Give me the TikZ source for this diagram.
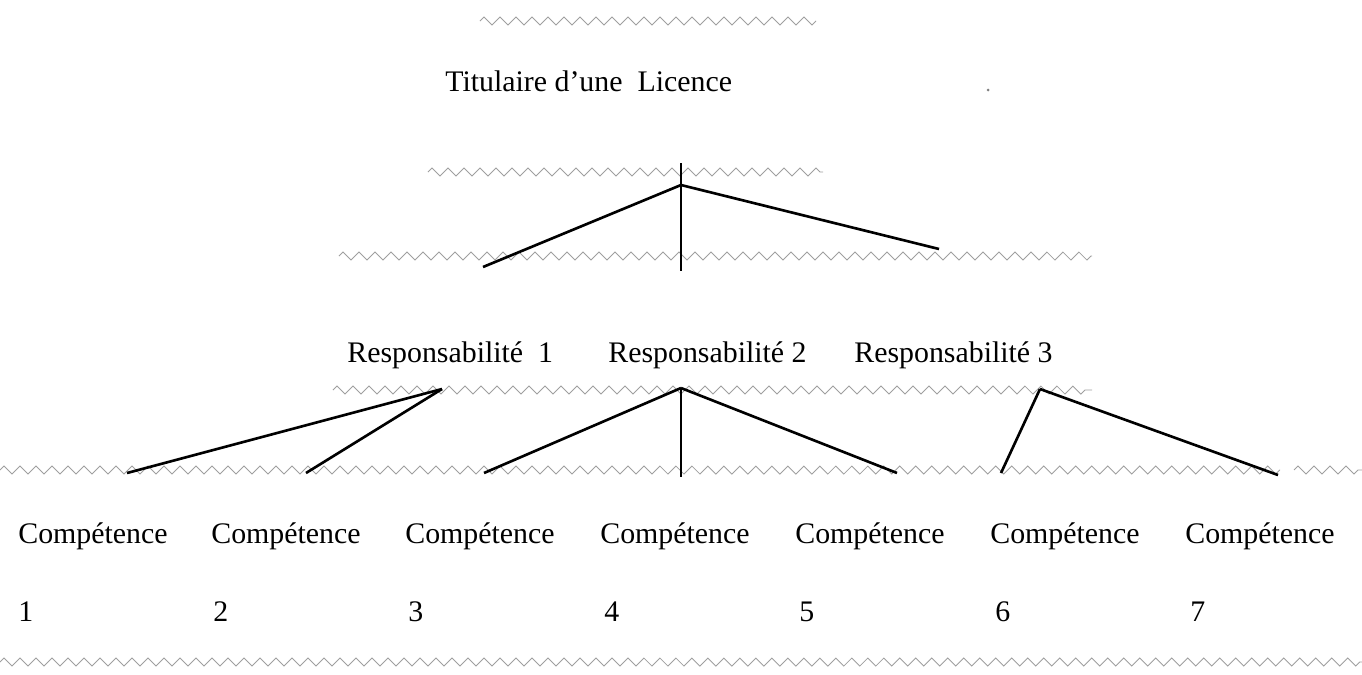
\documentclass[tikz,border=0pt]{standalone}
\usepackage{fontspec}
\setmainfont{Liberation Serif}
\usetikzlibrary{decorations.pathmorphing}
\tikzstyle{txt}=[anchor=base west,inner sep=0pt,font=\fontsize{17}{20}\selectfont]
\tikzstyle{wavy}=[gray!75,line width=0.5pt,decorate,decoration={zigzag,segment length=0.32cm,amplitude=0.08cm}]
\tikzstyle{branch}=[line width=1.5pt]
\tikzstyle{stem}=[line width=1.1pt]
\begin{document}
\begin{tikzpicture}[x=0.02cm,y=-0.02cm]
\useasboundingbox (0,0) rectangle (1362,674);

% wavy rules
\draw[wavy] (480,21) -- (816,21);
\draw[wavy] (428,172) -- (823,172);
\draw[wavy] (339,256) -- (1092,256);
\draw[wavy] (333,390) -- (1092,390);
\draw[wavy] (0,470) -- (1280,470);
\draw[wavy] (1294,470) -- (1362,470);
\draw[wavy] (0,662) -- (1362,662);
\fill[gray] (988,90) circle (1.5);

\node[txt] at (445,91) (lic) {Titulaire d'une~~Licence};

\node[txt] at (347,362) (r1) {Responsabilité~~1};
\node[txt] at (608,362) (r2) {Responsabilité 2};
\node[txt] at (854,362) (r3) {Responsabilité 3};

\node[txt] at (18,543) (c1) {Compétence};
\node[txt] at (211,543) (c2) {Compétence};
\node[txt] at (405,543) (c3) {Compétence};
\node[txt] at (600,543) (c4) {Compétence};
\node[txt] at (795,543) (c5) {Compétence};
\node[txt] at (990,543) (c6) {Compétence};
\node[txt] at (1185,543) (c7) {Compétence};
\node[txt] at (18,621) (n1) {1};
\node[txt] at (213,621) (n2) {2};
\node[txt] at (408,621) (n3) {3};
\node[txt] at (604,621) (n4) {4};
\node[txt] at (799,621) (n5) {5};
\node[txt] at (995,621) (n6) {6};
\node[txt] at (1190,621) (n7) {7};

% branch points
\coordinate (lic top) at (681,163);
\coordinate (lic apex) at (681,185);
\coordinate (lic left) at (483,267);
\coordinate (lic mid) at (681,271);
\coordinate (lic right) at (939,249);
\coordinate (r1 apex) at (442,389);
\coordinate (r2 apex) at (681,388);
\coordinate (r3 apex) at (1040,389);
\coordinate (f1) at (127,473);
\coordinate (f2) at (306,473);
\coordinate (f3) at (484,473);
\coordinate (f4) at (681,477);
\coordinate (f5) at (897,473);
\coordinate (f6) at (1001,473);
\coordinate (f7) at (1278,475);

\draw[stem] (lic top) -- (lic mid);
\draw[branch] (lic apex) edge (lic left);
\draw[branch] (lic apex) edge (lic right);
\draw[branch] (r1 apex) edge (f1);
\draw[branch] (r1 apex) edge (f2);
\draw[branch] (r2 apex) edge (f3);
\draw[stem] (r2 apex) -- (f4);
\draw[branch] (r2 apex) edge (f5);
\draw[branch] (r3 apex) edge (f6);
\draw[branch] (r3 apex) edge (f7);

\end{tikzpicture}
\end{document}
